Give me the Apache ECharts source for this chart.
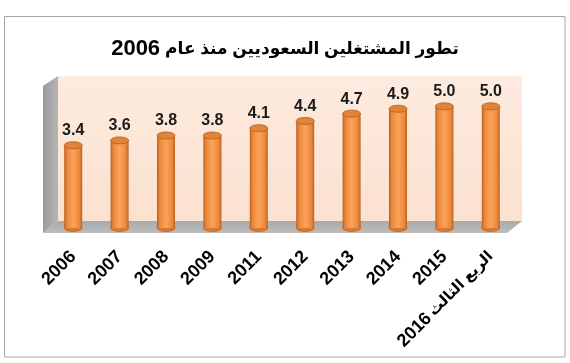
<!DOCTYPE html>
<html>
<head>
<meta charset="utf-8">
<script src="https://cdn.jsdelivr.net/npm/echarts@6/dist/echarts.min.js"></script>
<style>html,body{margin:0;padding:0;background:#fff}#c{width:570px;height:363px}</style>
</head>
<body>
<div id="c"></div>
<script>
const titleWords = 'تطور المشتغلين السعوديين منذ عام';
const titleYear = '2006';
const categories = ['2006','2007','2008','2009','2011','2012','2013','2014','2015','الربع الثالث 2016'];
const values = [3.4,3.6,3.8,3.8,4.1,4.4,4.7,4.9,5.0,5.0];

const FONT = '"Liberation Sans", "DejaVu Sans", Arial, sans-serif';
const chart = echarts.init(document.getElementById('c'));

function renderItem(params, api) {
  const idx = api.value(0);
  const val = api.value(1);
  const top = api.coord([idx, val]);
  const base = api.coord([idx, 0]);
  const w = 18, ry = 3.5, cx = top[0];
  return {
    type: 'group',
    children: [
      { type: 'ellipse', shape: { cx: cx, cy: base[1], rx: w/2, ry: ry },
        style: { fill: '#d97a33', stroke: '#b55d1e', lineWidth: 0.6 } },
      { type: 'rect', shape: { x: cx - w/2, y: top[1], width: w, height: base[1] - top[1] },
        style: { fill: new echarts.graphic.LinearGradient(0,0,1,0,[
          {offset:0,color:'#b95f20'},{offset:0.15,color:'#ec873a'},
          {offset:0.5,color:'#fba35c'},{offset:0.85,color:'#ec873a'},{offset:1,color:'#b95f20'}]) } },
      { type: 'ellipse', shape: { cx: cx, cy: top[1], rx: w/2, ry: ry },
        style: { fill: '#e0843a', stroke: '#b55d1e', lineWidth: 0.8 } },
      { type: 'text', style: { text: val.toFixed(1), x: cx, y: top[1] - ry - 3,
        align: 'center', verticalAlign: 'bottom', fill: '#1a1a1a',
        font: 'bold 16px ' + FONT } }
    ]
  };
}

// Split a mixed label into a numeric part and an Arabic part, laid out in visual (RTL) order.
function labelFmt(v) {
  const m = v.match(/^(.*\S)\s+(\d{4})$/);
  if (m) return '{n|' + m[2] + '} {ar|' + m[1] + '}';
  return '{n|' + v + '}';
}

chart.setOption({
  animation: false,
  title: { text: '{n|' + titleYear + '} {a|' + titleWords + '}', left: 'center', top: 33,
    textStyle: { rich: {
      n: { fontFamily: FONT, fontWeight: 'bold', fontSize: 22, color: '#000' },
      a: { fontFamily: FONT, fontWeight: 'bold', fontSize: 17, color: '#000' } } } },
  grid: { left: 50, right: 56, top: 82, bottom: 135 },
  xAxis: { type: 'category', data: categories,
    axisLine: { show: false }, axisTick: { show: false },
    axisLabel: { interval: 0, rotate: 45, margin: 26, formatter: labelFmt,
      rich: {
        n: { color: '#000', fontFamily: FONT, fontWeight: 'bold', fontSize: 18 },
        ar: { color: '#000', fontFamily: FONT, fontWeight: 'bold', fontSize: 15 } } } },
  yAxis: { type: 'value', min: 0, max: 6, show: false, splitLine: { show: false } },
  graphic: [
    { type: 'rect', z: -10, shape: { x: 4.5, y: 16.5, width: 560.5, height: 340.5 },
      style: { fill: '#fff', stroke: '#a6a6a6', lineWidth: 1 } },
    { type: 'rect', z: -5, shape: { x: 58, y: 76, width: 464, height: 145 },
      style: { fill: new echarts.graphic.LinearGradient(0,0,0,1,[
        {offset:0,color:'#fdebdf'},{offset:1,color:'#fbe1d0'}]) } },
    { type: 'polygon', z: -5, shape: { points: [[43,86],[58,76],[58,221],[43,233]] },
      style: { fill: new echarts.graphic.LinearGradient(0,0,1,0,[
        {offset:0,color:'#9a9a9a'},{offset:1,color:'#b5b5b5'}]) } },
    { type: 'polygon', z: -5, shape: { points: [[58,221],[522,221],[507,233],[43,233]] },
      style: { fill: new echarts.graphic.LinearGradient(0,0,0,1,[
        {offset:0,color:'#a9a9a9'},{offset:1,color:'#bdbdbd'}]) } }
  ],
  series: [{
    type: 'custom',
    renderItem: renderItem,
    data: values.map((v, i) => [i, v]),
    encode: { x: 0, y: 1 },
    z: 5
  }]
});
</script>
</body>
</html>
